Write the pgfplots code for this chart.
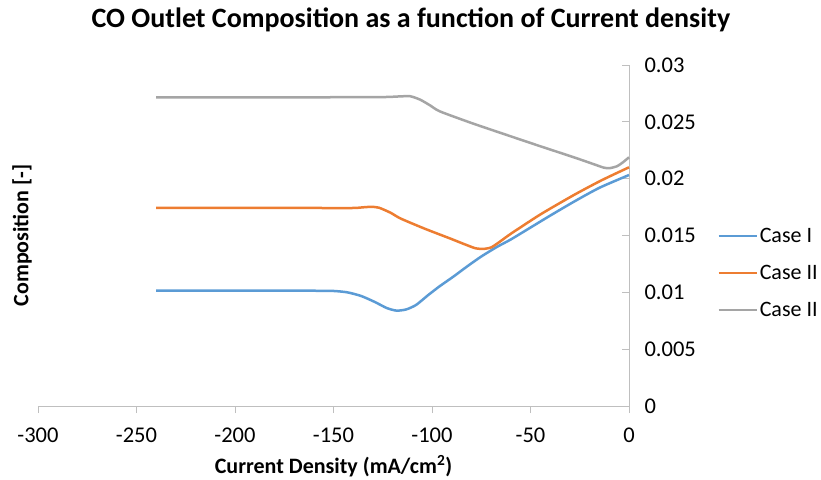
\documentclass[border=0pt]{standalone}
\usepackage{fontspec}
\setmainfont{Carlito}
\usepackage{pgfplots}
\pgfplotsset{compat=1.18}
\definecolor{cI}{HTML}{5B9BD5}
\definecolor{cII}{HTML}{ED7D31}
\definecolor{cIII}{HTML}{A5A5A5}
\definecolor{axgray}{HTML}{BFBFBF}
\begin{document}
\begin{tikzpicture}
\useasboundingbox (-38bp,-74bp) rectangle (783bp,406bp);
\begin{axis}[
  at={(0,0)}, anchor=south west,
  scale only axis, width=591bp, height=341bp,
  xmin=-300, xmax=0, ymin=0, ymax=0.03,
  axis x line=bottom, axis y line=right,
  axis line style={-, draw=axgray, line width=0.75bp},
  scaled y ticks=false, scaled x ticks=false,
  xtick={-300,-250,-200,-150,-100,-50,0},
  xticklabels={-300,-250,-200,-150,-100,-50,0},
  ytick={0,0.005,0.01,0.015,0.02,0.025,0.03},
  yticklabels={0,0.005,0.01,0.015,0.02,0.025,0.03},
  xtick align=outside, ytick align=inside,
  major tick length=7bp,
  tick style={draw=axgray, line width=0.75bp},
  tick label style={font=\fontsize{22.5bp}{27bp}\selectfont},
  yticklabel style={anchor=west, xshift=12bp},
  xticklabel style={anchor=north, yshift=-11bp},
  title={CO Outlet Composition as a function of Current density},
  title style={at={(axis description cs:0.631,1.0915)}, anchor=base, font=\bfseries\fontsize{28bp}{32bp}\selectfont},
  xlabel={Current Density (mA/cm\textsuperscript{2})},
  xlabel style={at={(axis description cs:0.5,-0.176)}, anchor=center, font=\bfseries\fontsize{22bp}{26bp}\selectfont},
  every axis y label/.style={at={(axis description cs:-0.027,0.5)}, anchor=center, rotate=90, font=\bfseries\fontsize{22bp}{26bp}\selectfont},
  ylabel={Composition [-]},
  legend style={at={(1.149,0.39)}, anchor=west, draw=none, fill=none,
    font=\fontsize{22bp}{27bp}\selectfont, row sep=17bp, inner sep=0pt,
    nodes={inner sep=2bp}},
  legend cell align=left,
  legend image code/.code={\draw[#1,line width=2.5bp] (0bp,0bp) -- (38bp,0bp);},
  every axis plot/.append style={line width=2.5bp, smooth, tension=0.4},
  clip=false,
]
\addplot[cI] coordinates {
(-240,0.01014) (-220,0.01014) (-200,0.01014) (-180,0.01014) (-160,0.01014)
(-150,0.01012) (-143,0.01000) (-136,0.00968) (-129,0.00915) (-123,0.00862)
(-118,0.00839) (-113,0.00850) (-108,0.00890) (-102,0.00975) (-96,0.01055)
(-89,0.01140) (-82,0.01230) (-75,0.01315) (-67,0.01400) (-60,0.01465)
(-50,0.01570) (-40,0.01675) (-28,0.01797) (-15,0.01920) (0,0.02032)
};
\addlegendentry{Case I}
\addplot[cII] coordinates {
(-240,0.01742) (-200,0.01742) (-160,0.01742) (-140,0.01742) (-135,0.01748)
(-131,0.01752) (-127,0.01745) (-121,0.01700) (-116,0.01650) (-104,0.01562)
(-91,0.01475) (-83,0.01420) (-78,0.01388) (-74,0.01382) (-70,0.01395)
(-66,0.01440) (-60,0.01515) (-45,0.01685) (-28,0.01856) (-14,0.01985)
(0,0.02100)
};
\addlegendentry{Case II}
\addplot[cIII] coordinates {
(-240,0.02716) (-200,0.02716) (-160,0.02716) (-125,0.02718) (-116,0.02724)
(-111,0.02725) (-106,0.02695) (-101,0.02645) (-96,0.02592) (-80,0.02490)
(-62,0.02384) (-45,0.02285) (-28,0.02188) (-18,0.02128) (-13,0.02098)
(-10,0.02092) (-6,0.02110) (-3,0.02145) (0,0.02188)
};
\addlegendentry{Case II}
\end{axis}
\end{tikzpicture}
\end{document}
